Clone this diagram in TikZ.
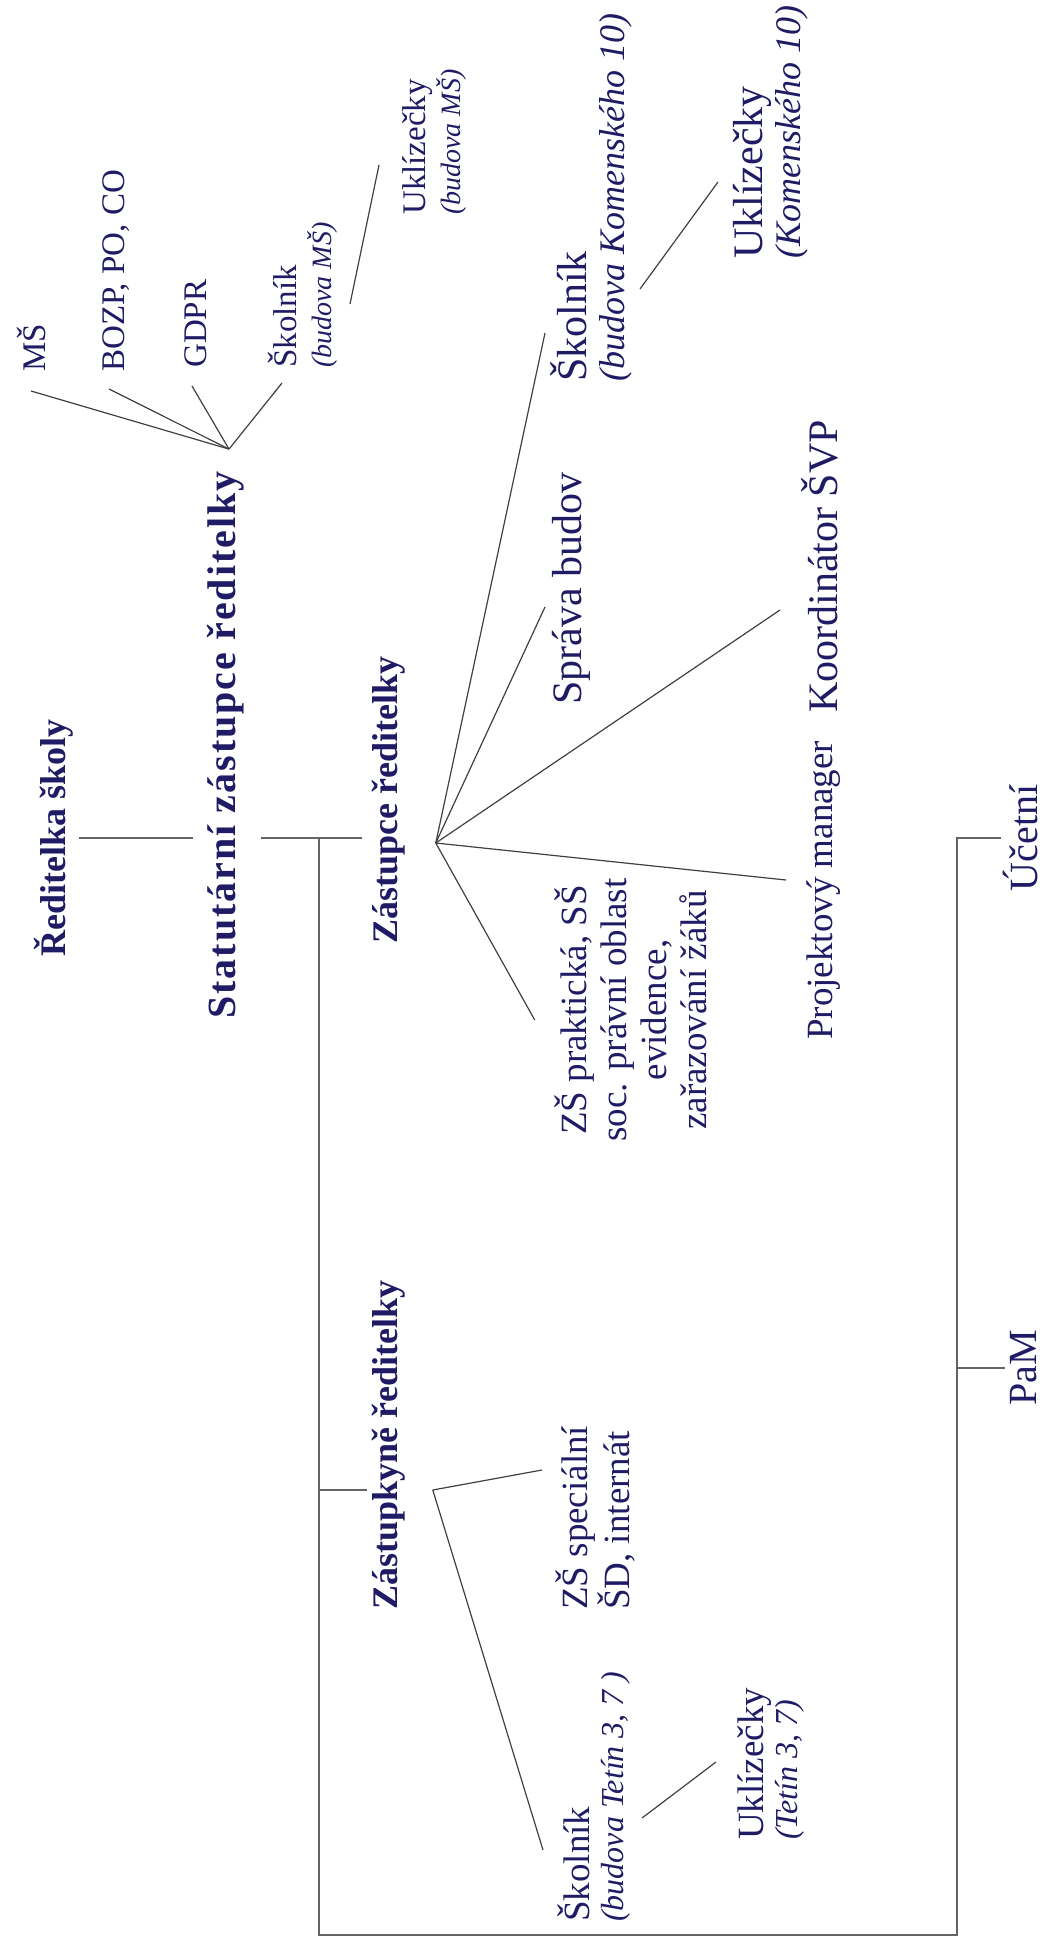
\documentclass[tikz,border=0pt]{standalone}
\usepackage{fontspec}
\setmainfont{Liberation Serif}
\newfontfamily\statfont{Liberation Serif}[LetterSpace=5]
\usetikzlibrary{calc,positioning}
\definecolor{ink}{RGB}{31,27,100}
\definecolor{wire}{RGB}{100,100,100}
\newcommand{\bldg}[1]{{\itshape\fontsize{32}{32}\selectfont #1}}
\newcommand{\bldgbig}[1]{{\itshape\fontsize{36}{36}\selectfont #1}}
\newcommand{\bldgsmall}[1]{{\itshape\fontsize{28}{28}\selectfont #1}}

\begin{document}
\begin{tikzpicture}[x=1pt,y=-1pt,
	every node/.style={rotate=90,text=ink,inner sep=0pt,anchor=west},
	head/.style={font=\bfseries\fontsize{36}{38}\selectfont},
	unit/.style={font=\fontsize{37}{34}\selectfont,align=left},
	small/.style={unit,font=\fontsize{33}{35}\selectfont},
	big/.style={unit,font=\fontsize{42}{38}\selectfont},
	link/.style={draw=black!75,line width=1.2pt},
	frame/.style={draw=wire,line width=1.8pt}]
	\useasboundingbox (0,0) rectangle (1050,1959);

	% vedeni
	\node[head,anchor=center] (ridka) at (54,838) {Ředitelka školy};
	\node[head,font=\statfont\bfseries\fontsize{40}{40}\selectfont] (stat) at (226,1019) {Statutární zástupce ředitelky};
	\node[head] (zast) at (389,944) {Zástupce ředitelky};
	\node[head,anchor=center] (zastk) at (389,1445) {Zástupkyně ředitelky};

	% statutarni zastupce
	\node[small] (ms) at (31,372) {MŠ};
	\node[small] (bozp) at (116,372) {BOZP, PO, CO};
	\node[small] (gdpr) at (196,368) {GDPR};
	\node[small] (skolms) at (303,368) {Školník\\\bldgsmall{(budova MŠ)}};
	\node[small] (uklms) at (434,215) {Uklízečky\\\bldgsmall{(budova MŠ)}};

	% zastupce
	\node[big] (skolkom) at (591,382) {Školník\\\bldgbig{(budova Komenského 10)}};
	\node[big] (uklkom) at (771,259) {Uklízečky\\\bldgbig{(Komenského 10)}};
	\node[big] (sprava) at (571,705) {Správa budov};
	\node[big] (koord) at (820,713) {Koordinátor ŠVP};
	\node[unit] (proj) at (824,1040) {Projektový manager};
	\node[unit,align=center,anchor=center,font=\fontsize{37}{40}\selectfont] (zspr) at (631,1010)
		{ZŠ praktická, SŠ\\soc. právní oblast\\evidence,\\zařazování žáků};

	% zastupkyne
	\node[unit,font=\fontsize{37}{42}\selectfont] (zsspec) at (595,1610) {ZŠ speciální\\ŠD, internát};
	\node[unit] (skoltet) at (594,1922) {Školník\\\bldg{(budova Tetín 3, 7 )}};
	\node[unit] (ukltet) at (771,1840) {Uklízečky\\\bldg{(Tetín 3, 7)}};

	% ekonomicky usek
	\node[unit,font=\fontsize{40}{38}\selectfont,anchor=center] (ucetni) at (1021,838) {Účetní};
	\node[unit,font=\fontsize{40}{38}\selectfont,anchor=center] (pam) at (1024,1368) {PaM};

	% ramec
	\coordinate (trunk) at (319,838);
	\coordinate (base) at (319,1935);
	\coordinate (rbar) at (957,838);
	\draw[frame] ($(ridka.south |- trunk)+(5,0)$) -- ($(stat.north |- trunk)+(-14,0)$);
	\draw[frame] ($(stat.south |- trunk)+(16,0)$) -- ($(zast.north |- trunk)+(-10,0)$);
	\draw[frame] (trunk) -- (base) -- (base -| rbar) -- (rbar) -- ($(ucetni.north)+(-2,0)$);
	\coordinate (kstub) at ($(zastk.north)+(-5,45)$);
	\draw[frame] (trunk |- kstub) -- (kstub);
	\draw[frame] (rbar |- pam.north) -- ($(pam.north)+(-6,0)$);

	% vejir statutarniho zastupce
	\coordinate (sfan) at ($(stat.east)+(3,-22)$);
	\draw[link] (sfan) -- ($(ms.west)+(0,19)$);
	\draw[link] (sfan) -- ($(bozp.west)+(-7,17)$);
	\draw[link] (sfan) -- ($(gdpr.west)+(-4,18)$);
	\draw[link] (sfan) -- ($(skolms.west)+(-21,15)$);
	\draw[link] ($(skolms.west)+(47,-64)$) -- ($(uklms.west)+(-55,-50)$);

	% vejir zastupce
	\coordinate (zfan) at ($(trunk -| zast.south)+(30,5)$);
	\draw[link] (zfan) -- ($(skolkom.west)+(-46,-49)$);
	\draw[link] (zfan) -- ($(sprava.west)+(-26,-98)$);
	\draw[link] (zfan) -- ($(koord.west)+(-40,-103)$);
	\draw[link] (zfan) -- ($(proj.west)+(-38,-160)$);
	\draw[link] (zfan) -- ($(zspr.north)+(-20,10)$);
	\draw[link] ($(skolkom.west)+(49,-93)$) -- ($(uklkom.west)+(-53,-77)$);

	% vejir zastupkyne
	\coordinate (kfan) at ($(zastk.south)+(27,45)$);
	\draw[link] (kfan) -- ($(zsspec.west)+(-53,-140)$);
	\draw[link] (kfan) -- ($(skoltet.west)+(-51,-72)$);
	\draw[link] ($(skoltet.west)+(48,-104)$) -- ($(ukltet.west)+(-55,-78)$);
\end{tikzpicture}
\end{document}
